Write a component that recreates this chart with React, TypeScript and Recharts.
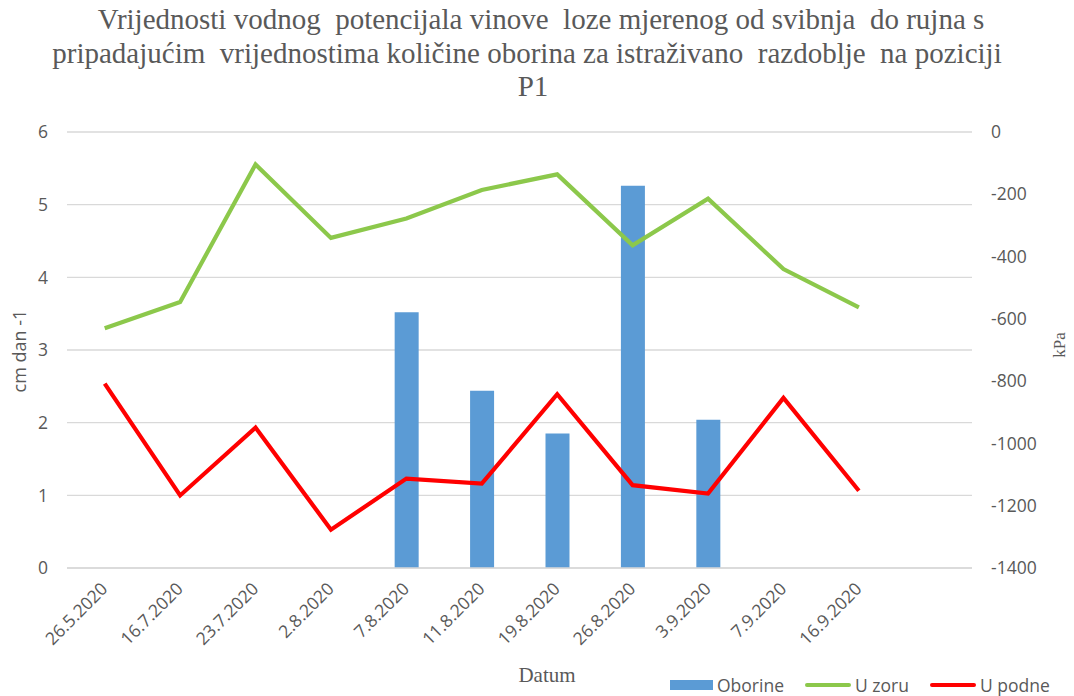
import React from 'react';
import { ComposedChart, Bar, Line, XAxis, YAxis, CartesianGrid, Legend } from 'recharts';

const dates = ['26.5.2020', '16.7.2020', '23.7.2020', '2.8.2020', '7.8.2020', '11.8.2020', '19.8.2020', '26.8.2020', '3.9.2020', '7.9.2020', '16.9.2020', ''];
const oborine = [null, null, null, null, 3.52, 2.44, 1.85, 5.26, 2.04, null, null, null];
const uZoru = [-630, -546, -104, -340, -278, -186, -136, -364, -214, -440, -563, null];
const uPodne = [-808, -1167, -949, -1277, -1113, -1129, -842, -1134, -1161, -854, -1152, null];
const leftTicks = [0, 1, 2, 3, 4, 5, 6];
const rightTicks = [-1400, -1200, -1000, -800, -600, -400, -200, 0];
const seriesOrder = ['Oborine', 'U zoru', 'U podne'];

const titleLines = [
  'Vrijednosti vodnog  potencijala vinove  loze mjerenog od svibnja  do rujna s',
  'pripadajućim  vrijednostima količine oborina za istraživano  razdoblje  na poziciji',
  'P1',
];

const data = dates.map((d, i) => ({ date: d, Oborine: oborine[i], 'U zoru': uZoru[i], 'U podne': uPodne[i] }));

const SANS = '"Open Sans", "Liberation Sans", sans-serif';
const SERIF = '"Liberation Serif", "DejaVu Serif", serif';
const TXT = '#595959';

const XTick = (props: any) => {
  const { x, y, payload } = props;
  return (
    <g transform={`translate(${x + 4},${y + 14})`}>
      <text x={0} y={0} textAnchor="end" transform="rotate(-45)" fill={TXT} fontSize={17.5} fontFamily={SANS}>
        {payload.value}
      </text>
    </g>
  );
};

const LegendContent = (props: any) => {
  const payload = [...(props.payload || [])].sort(
    (a: any, b: any) => seriesOrder.indexOf(a.value) - seriesOrder.indexOf(b.value)
  );
  return (
    <div style={{ display: 'flex', alignItems: 'center', fontFamily: SANS, fontSize: 17.5, color: TXT, whiteSpace: 'nowrap' }}>
      {payload.map((p: any, i: number) => (
        <div key={i} style={{ display: 'flex', alignItems: 'center', marginRight: 21 }}>
          {p.type === 'rect' ? (
            <div style={{ width: 43, height: 10, background: p.color, marginRight: 4 }} />
          ) : (
            <div style={{ width: 46, height: 4, background: p.color, marginRight: 4, borderRadius: 2 }} />
          )}
          <span>{p.value}</span>
        </div>
      ))}
    </div>
  );
};

export default function App() {
  return (
    <div style={{ position: 'absolute', left: 0, top: 0, width: 1074, height: 696, background: '#fff', overflow: 'hidden' }}>
      {titleLines.map((t, i) => (
        <div
          key={i}
          style={{
            position: 'absolute',
            left: 0,
            width: 1074,
            top: 3 + i * 33.5,
            textAlign: 'center',
            fontFamily: SERIF,
            fontSize: 29,
            lineHeight: '33px',
            color: TXT,
            whiteSpace: 'pre',
            transform: `translateX(${i === 0 ? 4 : i === 1 ? -10 : -4}px)`,
          }}
        >
          {t}
        </div>
      ))}
      <ComposedChart
        width={1074}
        height={696}
        data={data}
        margin={{ top: 132, right: 22, bottom: 88, left: 20 }}
        style={{ position: 'absolute', left: 0, top: 0 }}
      >
        <CartesianGrid vertical={false} stroke="#d9d9d9" strokeWidth={1.3} yAxisId="left" />
        <XAxis
          dataKey="date"
          xAxisId={0}
          height={40}
          interval={0}
          tickLine={false}
          axisLine={{ stroke: '#d9d9d9', strokeWidth: 1.3 }}
          tick={<XTick />}
        />
        <YAxis
          yAxisId="left"
          orientation="left"
          width={47}
          domain={[0, 6]}
          ticks={leftTicks}
          tickLine={false}
          axisLine={false}
          tickMargin={13}
          tick={{ fill: TXT, fontSize: 17.5, fontFamily: SANS }}
        />
        <YAxis
          yAxisId="right"
          orientation="right"
          width={80}
          domain={[-1400, 0]}
          ticks={rightTicks}
          tickLine={false}
          axisLine={false}
          tickMargin={13}
          tick={{ fill: TXT, fontSize: 17.5, fontFamily: SANS, textAnchor: 'start' }}
        />
        <Bar yAxisId="left" dataKey="Oborine" fill="#5b9bd5" barSize={24} isAnimationActive={false} legendType="rect" />
        <Line yAxisId="right" dataKey="U zoru" stroke="#8cc84b" strokeWidth={4.2} dot={false} activeDot={false} isAnimationActive={false} legendType="line" connectNulls={false} />
        <Line yAxisId="right" dataKey="U podne" stroke="#ff0000" strokeWidth={4.2} dot={false} activeDot={false} isAnimationActive={false} legendType="line" connectNulls={false} />
        <Legend
          layout="horizontal"
          verticalAlign="middle"
          align="center"
          wrapperStyle={{ top: 673, left: 670, width: 'auto', height: 26 }}
          content={<LegendContent />}
        />
      </ComposedChart>
      <div
        style={{
          position: 'absolute',
          left: 19,
          top: 351,
          transform: 'translate(-50%, -50%) rotate(-90deg)',
          fontFamily: SANS,
          fontSize: 18,
          color: TXT,
          whiteSpace: 'nowrap',
        }}
      >
        cm dan -1
      </div>
      <div
        style={{
          position: 'absolute',
          left: 1060,
          top: 345,
          transform: 'translate(-50%, -50%) rotate(-90deg)',
          fontFamily: SERIF,
          fontSize: 17,
          color: TXT,
          whiteSpace: 'nowrap',
        }}
      >
        kPa
      </div>
      <div
        style={{
          position: 'absolute',
          left: 547,
          top: 675,
          transform: 'translate(-50%, -50%)',
          fontFamily: SERIF,
          fontSize: 21,
          color: TXT,
          whiteSpace: 'nowrap',
        }}
      >
        Datum
      </div>
    </div>
  );
}
